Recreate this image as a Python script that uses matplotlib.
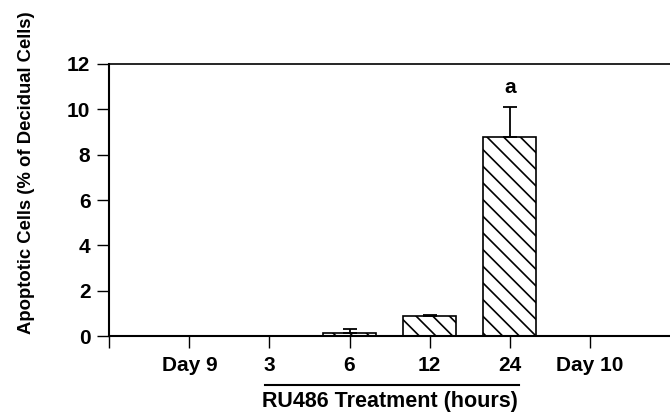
import matplotlib.pyplot as plt
import matplotlib.transforms as mtransforms
import numpy as np

plt.rcParams["font.family"] = ["Liberation Sans", "DejaVu Sans"]
plt.rcParams["font.weight"] = "bold"
plt.rcParams["hatch.linewidth"] = 1.2

groups = ["Day 9", "3", "6", "12", "24", "Day 10"]
apoptotic_pct = [0.0, 0.0, 0.15, 0.88, 8.8, 0.0]
sem_pct = [0.0, 0.0, 0.17, 0.06, 1.3, 0.0]
sig_labels = ["", "", "", "", "a", ""]

fig = plt.figure(figsize=(6.7, 4.18), dpi=100)
ax = fig.add_axes([0.163, 0.196, 0.837, 0.651])

x = np.arange(len(groups))
ax.bar(x, apoptotic_pct, width=0.66, color="white", edgecolor="black",
       linewidth=1.2, hatch="\\\\", zorder=2)
ax.errorbar(x, apoptotic_pct, yerr=[np.zeros(len(x)), sem_pct], fmt="none",
            ecolor="black", elinewidth=1.3, capsize=5, capthick=1.3, zorder=3)

for xi, val, err, lab in zip(x, apoptotic_pct, sem_pct, sig_labels):
    if lab:
        ax.text(xi, val + err + 0.45, lab, ha="center", va="bottom",
                fontsize=15, fontweight="bold")

ax.set_xlim(-1, 6)
ax.set_ylim(0, 12)
ax.set_yticks(range(0, 13, 2))
ax.set_xticks(x)
ax.set_xticklabels(groups)
ax.set_xticks([-1], minor=True)
ax.tick_params(axis="both", which="both", direction="out", length=8.5,
               width=1.0, labelsize=15, pad=5)
ax.tick_params(axis="x", pad=6)
for lbl in ax.get_xticklabels() + ax.get_yticklabels():
    lbl.set_fontweight("bold")

ax.spines["right"].set_visible(False)
for side in ["left", "bottom"]:
    ax.spines[side].set_linewidth(1.5)
ax.spines["top"].set_linewidth(1.2)

# bracket line and label for the treatment time points
trans = mtransforms.blended_transform_factory(ax.transData, ax.transAxes)
ax.plot([0.95, 4.12], [-0.178, -0.178], color="black", linewidth=1.5,
        transform=trans, clip_on=False)
ax.text(2.5, -0.239, "RU486 Treatment (hours)", transform=trans,
        ha="center", va="center", fontsize=15.5, fontweight="bold")

fig.text(0.04, 0.588, "Apoptotic Cells (% of Decidual Cells)", rotation=90,
         ha="center", va="center", fontsize=13.3, fontweight="bold")

fig.savefig("out.png", dpi=100)
